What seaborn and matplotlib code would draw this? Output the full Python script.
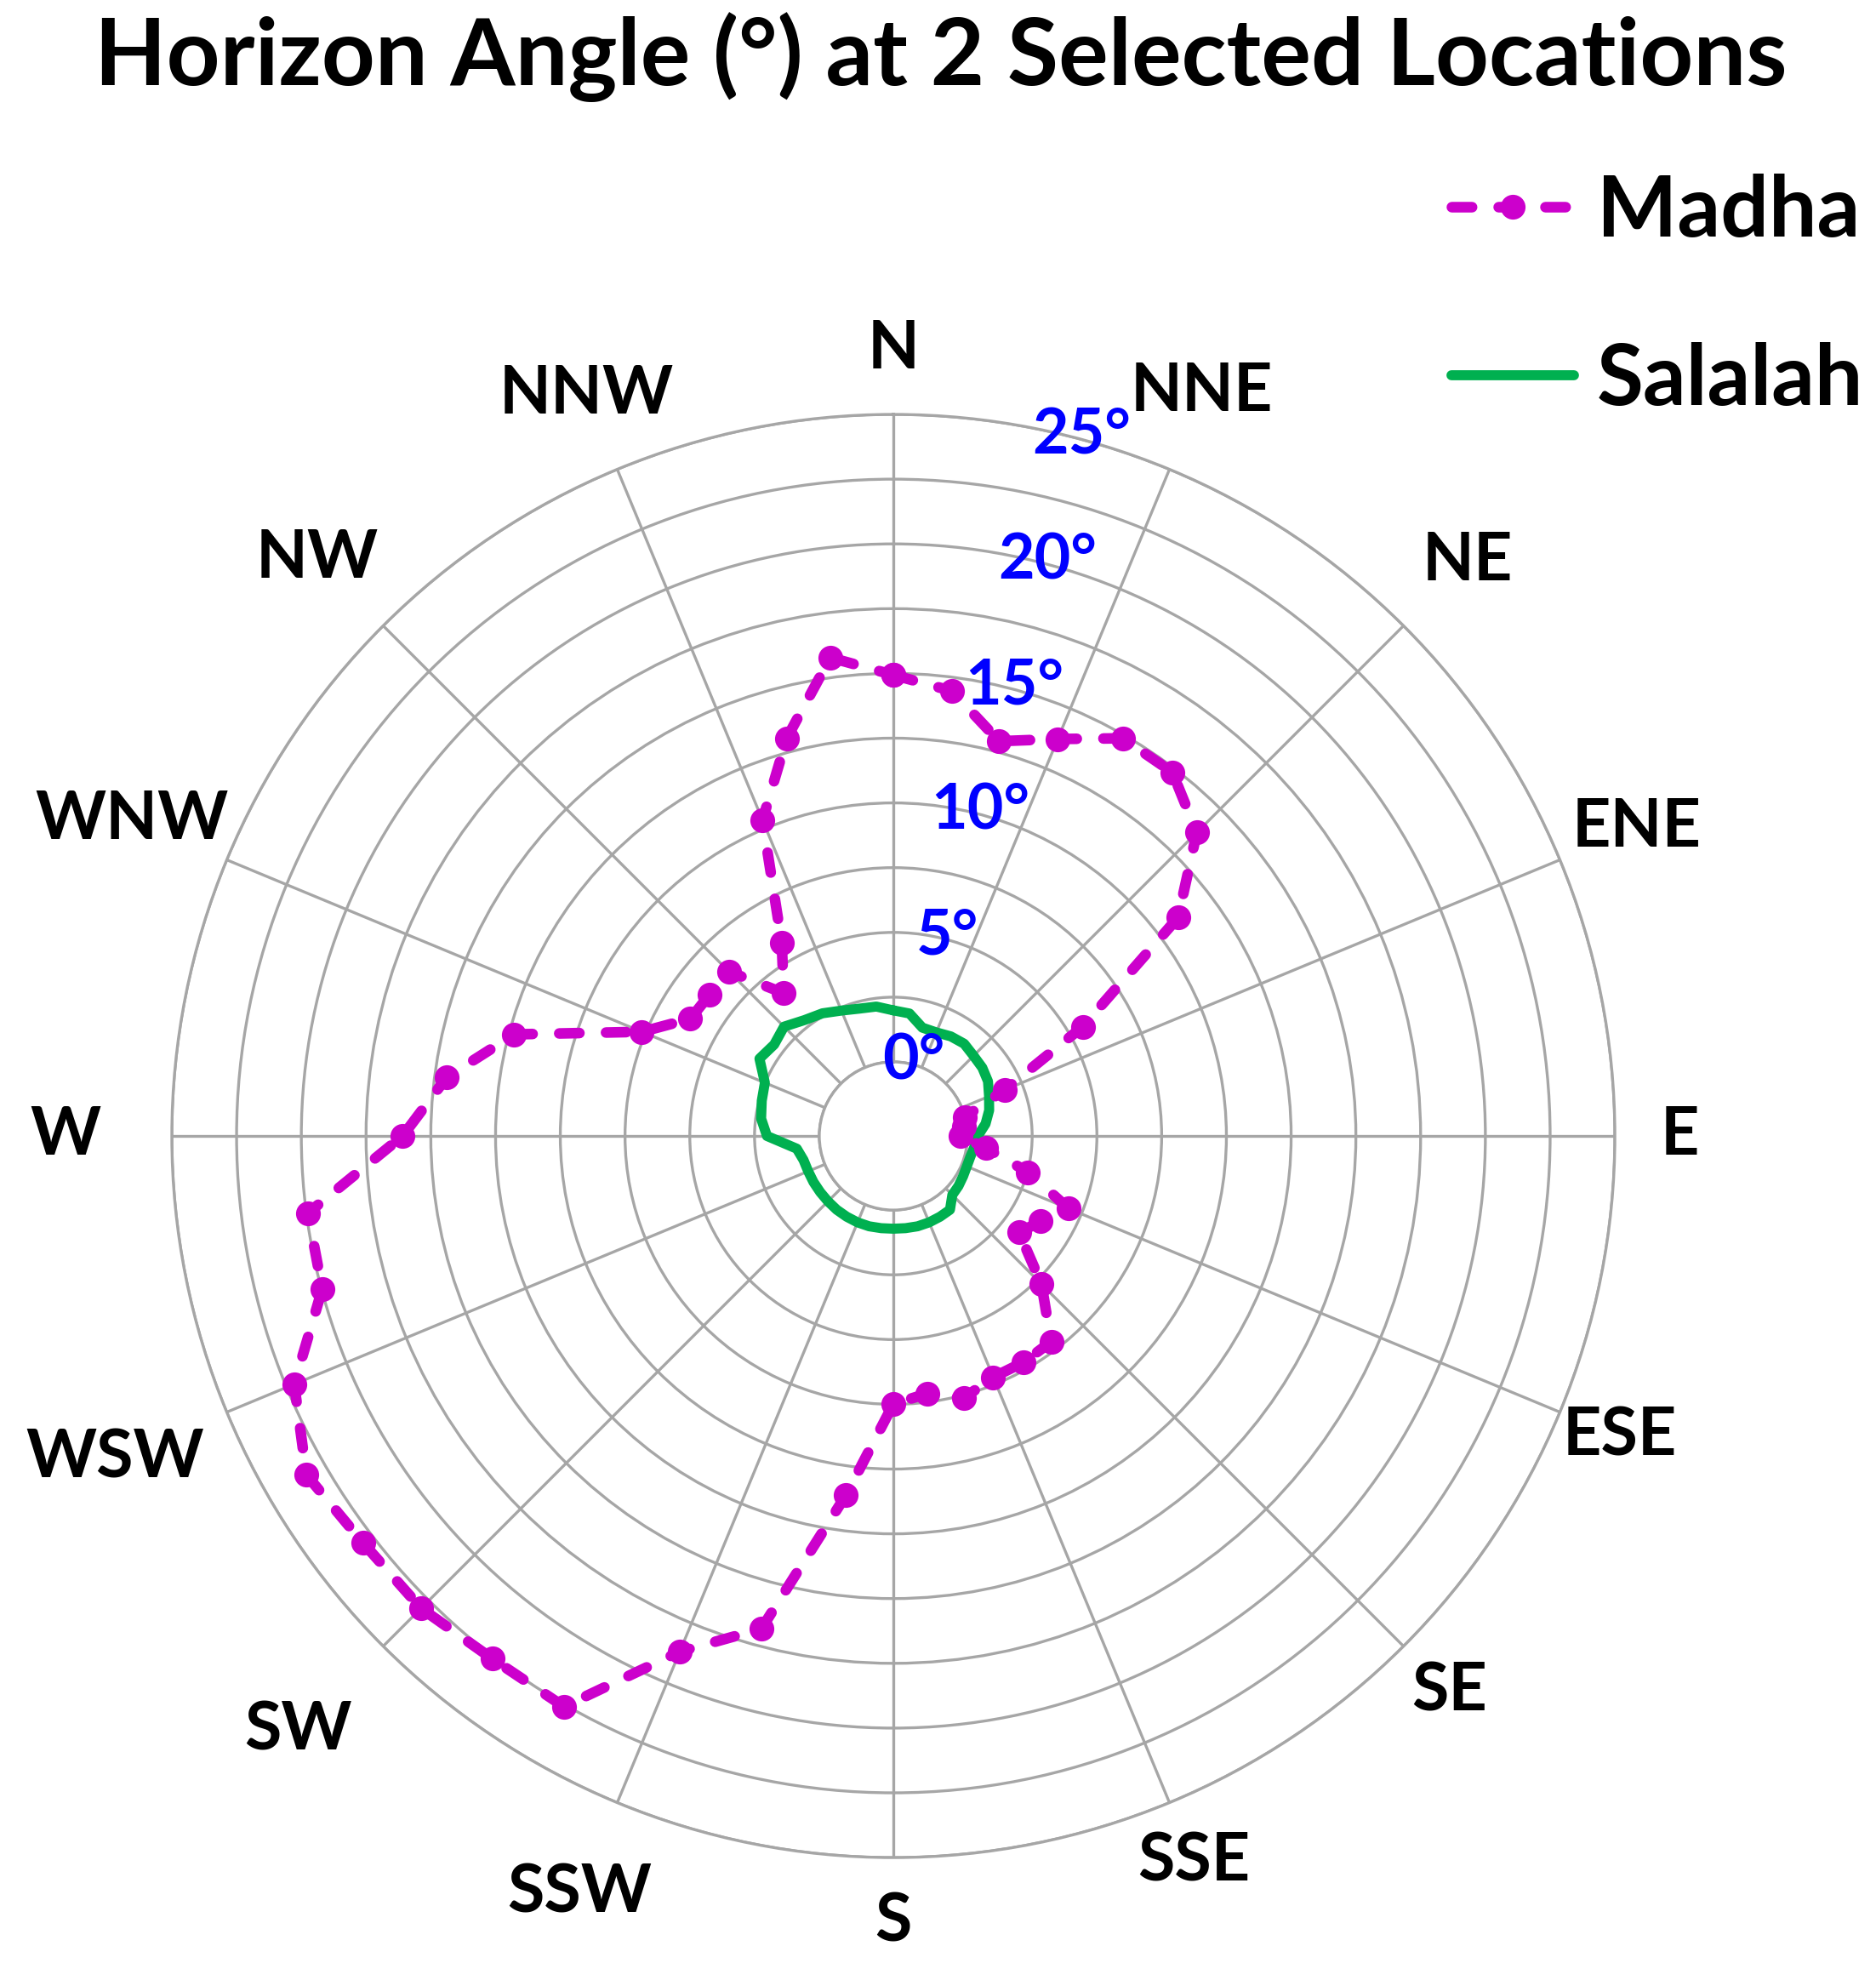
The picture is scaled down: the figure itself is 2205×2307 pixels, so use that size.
import numpy as np
import pandas as pd
import matplotlib
matplotlib.use("Agg")
import matplotlib.pyplot as plt
import seaborn as sb

# compass labels for the 16 spokes
directions = ["N", "NNE", "NE", "ENE", "E", "ESE", "SE", "SSE",
              "S", "SSW", "SW", "WSW", "W", "WNW", "NW", "NNW"]

# azimuth of each reading (deg, clockwise from north)
azimuth = [0, 7.5, 15, 22.5, 30, 37.5, 45, 52.5, 60, 67.5, 75, 82.5,
           90, 97.5, 105, 112.5, 120, 127.5, 135, 142.5, 150, 157.5, 165, 172.5,
           180, 187.5, 195, 202.5, 210, 217.5, 225, 232.5, 240, 247.5, 255, 262.5,
           270, 277.5, 285, 292.5, 300, 307.5, 315, 322.5, 330, 337.5, 345, 352.5]

# horizon angle (deg)
madha = [14.94, 14.47, 12.92, 13.73, 14.87, 14.84, 13.71, 11.0, 5.58, 1.80, 0.0, -0.1,
         -0.25, 0.75, 2.53, 4.46, 3.72, 3.26, 5.23, 7.15, 7.22, 7.22, 7.62, 7.17,
         7.49, 11.12, 16.84, 18.69, 22.58, 22.58, 22.93, 22.95, 23.31, 22.18, 19.97, 19.94,
         16.09, 14.53, 12.30, 7.65, 6.19, 6.09, 6.12, 4.09, 5.76, 10.34, 13.04, 15.77]

salalah = [1.99, 1.91, 1.47, 1.47, 1.58, 1.63, 1.52, 1.47, 1.36, 1.14, 0.97, 0.73,
           0.40, 0.30, 0.22, 0.21, 0.25, 0.31, 0.36, 0.73, 0.74, 0.75, 0.75, 0.73,
           0.72, 0.73, 0.75, 0.75, 0.74, 0.73, 0.71, 0.70, 0.70, 0.70, 0.73, 0.90,
           2.02, 2.29, 2.40, 2.51, 3.11, 2.94, 3.11, 2.78, 2.61, 2.38, 2.23, 2.18]

rings = [0, 2.5, 5, 7.5, 10, 12.5, 15, 17.5, 20, 22.5, 25]
ring_labels = [0, 5, 10, 15, 20, 25]

MAGENTA = "#CC00CC"
GREEN = "#00B050"
GRID = "#A6A6A6"

sb.set_theme(style="white")
plt.rcParams['font.family'] = ['Lato', 'DejaVu Sans']
plt.rcParams['text.color'] = 'black'

def closed(values):
    # repeat the first reading so the loop closes at north
    theta = np.deg2rad(azimuth + [360])
    return pd.DataFrame({"theta": theta, "angle": values + values[:1]})

fig = plt.figure(figsize=(22.05, 23.07), dpi=100)
ax = fig.add_axes([0.0916, 0.0537, 0.7692, 0.7352], projection="polar")

sb.lineplot(data=closed(madha), x="theta", y="angle", sort=False, estimator=None,
            ax=ax, color=MAGENTA, linewidth=9, linestyle=(0, (1.9, 2.5)),
            dash_capstyle="round", marker="o", markersize=21, markeredgewidth=0,
            clip_on=False, zorder=4)
sb.lineplot(data=closed(salalah), x="theta", y="angle", sort=False, estimator=None,
            ax=ax, color=GREEN, linewidth=8.5, solid_joinstyle="round",
            solid_capstyle="round", clip_on=False, zorder=3)

ax.set_theta_zero_location("N")
ax.set_theta_direction(-1)
ax.set_ylim(0, 25)
ax.set_rorigin(-2.86)

spokes = np.deg2rad(np.arange(len(directions)) * 22.5)
ax.set_xticks(spokes)
ax.set_xticklabels([])
ax.set_yticks(rings)
ax.set_yticklabels([])
ax.tick_params(length=0)
ax.grid(True, color=GRID, linewidth=2.4)
for sp in ax.spines.values():
    sp.set_color(GRID)
    sp.set_linewidth(2.4)
ax.set_xlabel("")
ax.set_ylabel("")

# radial labels along the 15 deg ray
for v in ring_labels:
    ax.text(np.deg2rad(15), v + 0.15, f"{v}°", color="#0000FF", fontsize=53,
            fontweight="bold", ha="center", va="center", zorder=6)

# compass labels; west side and the diagonals sit a little further out
for d, t in zip(directions, spokes):
    r = 27.5 + 1.6 * max(0.0, -np.sin(t)) + 1.0 * max(0.0, np.sin(2 * t))
    ax.text(t, r, d, ha="center", va="center", fontsize=57,
            fontweight="bold", color="black", clip_on=False)

fig.text(0.5016, 1 - 100 / 2307, "Horizon Angle (°) at 2 Selected Locations",
         ha="center", va="baseline", fontsize=79, fontweight="bold", color="black")

fig.legend(handles=ax.lines[:2], labels=["Madha", "Salalah"], loc="upper left",
           bbox_to_anchor=(1706 / 2205, 1 - 204 / 2307), frameon=False,
           prop={"size": 72, "weight": "bold"}, handlelength=1.44,
           handletextpad=0.27, labelspacing=1.07, borderpad=0, borderaxespad=0,
           labelcolor="black")

fig.savefig("out.png", dpi=100)
